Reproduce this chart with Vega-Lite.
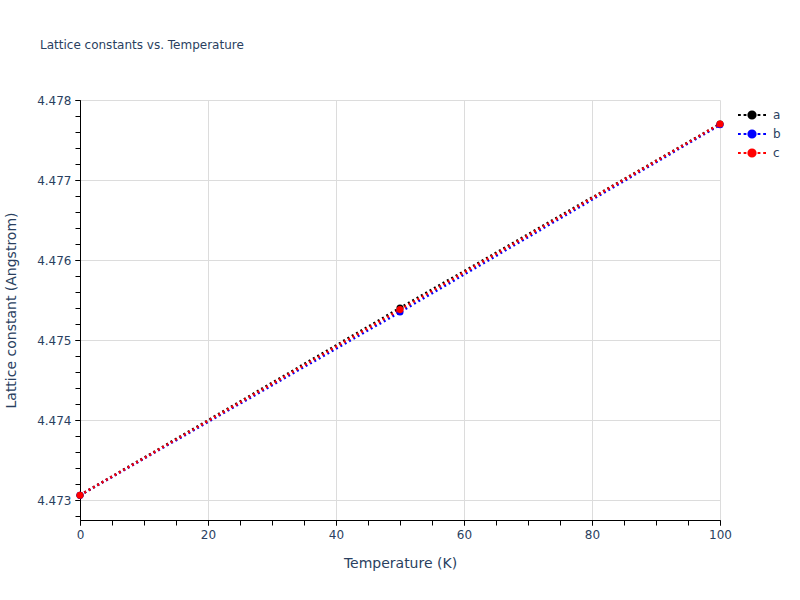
{
  "$schema": "https://vega.github.io/schema/vega-lite/v6.json",
  "width": 640,
  "height": 420,
  "autosize": {"type": "none"},
  "padding": {"left": 80, "top": 100, "right": 80, "bottom": 80},
  "background": "white",
  "title": {
    "text": "Lattice constants vs. Temperature",
    "anchor": "start",
    "frame": "group",
    "dx": -40,
    "offset": 42,
    "fontSize": 12,
    "fontWeight": "normal",
    "font": "DejaVu Sans",
    "color": "#2a3f5f"
  },
  "config": {
    "view": {"stroke": null},
    "font": "DejaVu Sans",
    "axis": {
      "labelFont": "DejaVu Sans",
      "titleFont": "DejaVu Sans",
      "labelColor": "#2a3f5f",
      "titleColor": "#2a3f5f",
      "labelFontSize": 12,
      "titleFontSize": 14,
      "titleFontWeight": "normal",
      "domainColor": "#000000",
      "domainWidth": 1,
      "tickColor": "#000000",
      "tickSize": 5,
      "gridColor": "#dcdcdc",
      "gridWidth": 1,
      "labelFlush": false
    },
    "legend": {
      "labelFont": "DejaVu Sans",
      "labelColor": "#2a3f5f",
      "labelFontSize": 12
    }
  },
  "resolve": {"axis": {"x": "independent", "y": "independent"}},
  "data": {
    "values": [
      {"T": 0, "param": "a", "value": 4.47306},
      {"T": 50, "param": "a", "value": 4.4754},
      {"T": 100, "param": "a", "value": 4.4777},
      {"T": 0, "param": "b", "value": 4.47306},
      {"T": 50, "param": "b", "value": 4.47535},
      {"T": 100, "param": "b", "value": 4.47769},
      {"T": 0, "param": "c", "value": 4.47306},
      {"T": 50, "param": "c", "value": 4.47538},
      {"T": 100, "param": "c", "value": 4.4777}
    ]
  },
  "layer": [
    {
      "mark": {"type": "line", "strokeDash": [2, 3], "strokeWidth": 2.5},
      "encoding": {
        "x": {
          "field": "T", "type": "quantitative",
          "scale": {"domain": [0, 100], "nice": false},
          "axis": {"orient": "bottom", "values": [0, 20, 40, 60, 80, 100], "title": "Temperature (K)", "titlePadding": 16, "labelPadding": 4, "grid": true, "ticks": true}
        },
        "y": {
          "field": "value", "type": "quantitative",
          "scale": {"domain": [4.47275, 4.478], "nice": false, "zero": false},
          "axis": {"orient": "left", "values": [4.473, 4.474, 4.475, 4.476, 4.477, 4.478], "format": ".3f", "title": "Lattice constant (Angstrom)", "titlePadding": 18, "labelPadding": 4, "grid": true}
        },
        "color": {
          "field": "param", "type": "nominal",
          "scale": {"domain": ["a", "b", "c"], "range": ["#000000", "#0000ff", "#ff0000"]},
          "legend": {
            "title": null,
            "orient": "right",
            "offset": 12,
            "padding": 6,
            "symbolType": "M-1.75,0H-1.4M-1.05,0H-0.7M0.7,0H1.05M1.4,0H1.75M0.45,0A0.45,0.45 0 1 1 -0.45,0A0.45,0.45 0 1 1 0.45,0Z",
            "symbolSize": 256,
            "symbolStrokeWidth": 2,
            "symbolOpacity": 1,
            "rowPadding": 2,
            "labelOffset": 12
          }
        }
      }
    },
    {
      "mark": {"type": "point", "filled": true, "size": 50, "opacity": 1},
      "encoding": {
        "x": {"field": "T", "type": "quantitative",
          "axis": {"orient": "bottom", "values": [0,5,10,15,20,25,30,35,40,45,50,55,60,65,70,75,80,85,90,95,100], "labels": false, "grid": false, "domain": false, "title": null, "tickSize": 5}},
        "y": {"field": "value", "type": "quantitative",
          "axis": {"orient": "left", "values": [4.4728, 4.473, 4.4732, 4.4734, 4.4736, 4.4738, 4.474, 4.4742, 4.4744, 4.4746, 4.4748, 4.475, 4.4752, 4.4754, 4.4756, 4.4758, 4.476, 4.4762, 4.4764, 4.4766, 4.4768, 4.477, 4.4772, 4.4774, 4.4776, 4.4778, 4.478], "labels": false, "grid": false, "domain": false, "title": null, "tickSize": 5}},
        "color": {"field": "param", "type": "nominal", "legend": null}
      }
    }
  ]
}
